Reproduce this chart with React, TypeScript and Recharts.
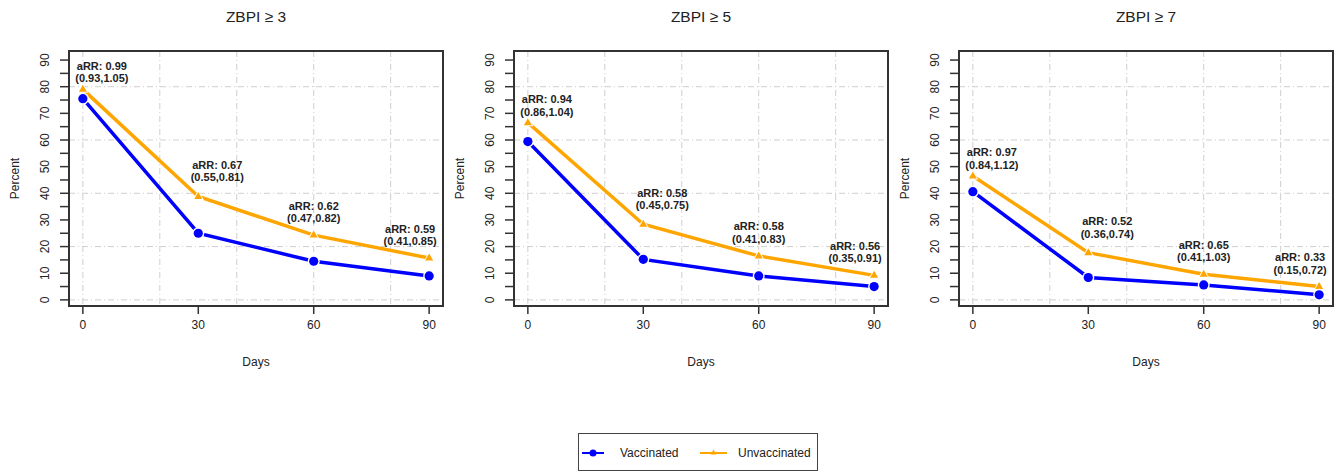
import React from "react";
import { LineChart, Line, XAxis, YAxis, CartesianGrid, ReferenceArea, LabelList } from "recharts";

// x values (days) and tick marks
const days = [0, 30, 60, 90];
const xTicks = [0, 30, 60, 90];
const yTicks = [0, 5, 10, 15, 20, 25, 30, 35, 40, 45, 50, 55, 60, 65, 70, 75, 80, 85, 90];
const gridX = [0, 20, 40, 60, 80];
const gridY = [0, 20, 40, 60, 80];

// ZBPI >= 3
const vacc3 = [75.5, 25, 14.5, 9];
const unvacc3 = [79, 38.8, 24.3, 15.7];
const arr3 = ["0.99", "0.67", "0.62", "0.59"];
const ci3 = ["(0.93,1.05)", "(0.55,0.81)", "(0.47,0.82)", "(0.41,0.85)"];

// ZBPI >= 5
const vacc5 = [59.4, 15.2, 9, 5];
const unvacc5 = [66.5, 28.4, 16.5, 9.2];
const arr5 = ["0.94", "0.58", "0.58", "0.56"];
const ci5 = ["(0.86,1.04)", "(0.45,0.75)", "(0.41,0.83)", "(0.35,0.91)"];

// ZBPI >= 7
const vacc7 = [40.6, 8.4, 5.6, 1.9];
const unvacc7 = [46.5, 17.7, 9.6, 5];
const arr7 = ["0.97", "0.52", "0.65", "0.33"];
const ci7 = ["(0.84,1.12)", "(0.36,0.74)", "(0.41,1.03)", "(0.15,0.72)"];

const BLUE = "#0000ff";
const ORANGE = "#ffa500";
const FONT = "'Liberation Sans', Arial, sans-serif";

// annotation placement relative to the triangle (px)
const ANN_DX = [19, 19, 0, -19];
const ANN_DY = [11, 19, 17, 17];

const panels = [
  { title: "ZBPI \u2265 3", vacc: vacc3, unvacc: unvacc3, arr: arr3, ci: ci3 },
  { title: "ZBPI \u2265 5", vacc: vacc5, unvacc: unvacc5, arr: arr5, ci: ci5 },
  { title: "ZBPI \u2265 7", vacc: vacc7, unvacc: unvacc7, arr: arr7, ci: ci7 },
];

const YTick = ({ x, y, payload }: any) => {
  if (payload.value % 10 !== 0) return null;
  return (
    <text x={x} y={y} transform={`rotate(-90 ${x} ${y})`} textAnchor="middle" dominantBaseline="central"
      fontFamily={FONT} fontSize={12} fill="#222">
      {payload.value}
    </text>
  );
};

const XTick = ({ x, y, payload }: any) => (
  <text x={x} y={y} textAnchor="middle" dominantBaseline="central" fontFamily={FONT} fontSize={12} fill="#222">
    {payload.value}
  </text>
);

const DaysLabel = ({ viewBox }: any) => (
  <text x={viewBox.x + viewBox.width / 2} y={viewBox.y + 56} textAnchor="middle" dominantBaseline="central"
    fontFamily={FONT} fontSize={12} fill="#222">Days</text>
);

const PercentLabel = ({ viewBox }: any) => {
  const x = viewBox.x + 15;
  const y = viewBox.y + viewBox.height / 2;
  return (
    <text x={x} y={y} transform={`rotate(-90 ${x} ${y})`} textAnchor="middle" dominantBaseline="central"
      fontFamily={FONT} fontSize={12} fill="#222">Percent</text>
  );
};

const CircleDot = ({ cx, cy }: any) => (
  <g>
    <circle cx={cx} cy={cy} r={6} fill="#fff" />
    <circle cx={cx} cy={cy} r={4.6} fill={BLUE} />
  </g>
);

const TriDot = ({ cx, cy }: any) => (
  <g>
    <polygon points={`${cx},${cy - 6.5} ${cx - 5.5},${cy + 3.5} ${cx + 5.5},${cy + 3.5}`} fill="#fff" />
    <polygon points={`${cx},${cy - 4.5} ${cx - 4},${cy + 2.5} ${cx + 4},${cy + 2.5}`} fill={ORANGE} />
  </g>
);

function Panel({ p, left }: { p: typeof panels[0]; left: number }) {
  const data = days.map((d, i) => ({
    day: d,
    vacc: p.vacc[i],
    unvacc: p.unvacc[i],
    ann: `${p.arr[i]}|${p.ci[i]}`,
  }));

  const AnnLabel = (props: any) => {
    const { x, y, index, value } = props;
    const [a, c] = String(value).split("|");
    const tx = x + ANN_DX[index];
    const ty = y - ANN_DY[index];
    return (
      <g fontFamily={FONT} fontSize={11} fontWeight="bold" fill="#222">
        <text x={tx} y={ty - 12.5} textAnchor="middle" dominantBaseline="central">aRR: {a}</text>
        <text x={tx} y={ty} textAnchor="middle" dominantBaseline="central">{c}</text>
      </g>
    );
  };

  return (
    <div style={{ position: "absolute", left, top: 0, width: 445, height: 400 }}>
      <div style={{ position: "absolute", left: 69, width: 374, top: 8, textAlign: "center",
        fontFamily: FONT, fontSize: 15.5, color: "#222" }}>{p.title}</div>
      <LineChart width={445} height={400} data={data} margin={{ top: 51, right: 2, left: 0, bottom: 0 }}>
        <CartesianGrid stroke="#cfcfcf" strokeDasharray="6 3 1 3" verticalValues={gridX} horizontalValues={gridY} />
        <XAxis dataKey="day" type="number" domain={[-3.6, 93.6]} ticks={xTicks} allowDataOverflow
          axisLine={false} tickSize={8} tickMargin={11} height={94} tick={<XTick />}
          tickLine={{ stroke: "#333", strokeWidth: 1.5 }} label={<DaysLabel />} />
        <YAxis type="number" domain={[-2.3, 93.4]} ticks={yTicks} allowDataOverflow interval={0}
          axisLine={false} tickSize={9} tickMargin={15} width={69} tick={<YTick />}
          tickLine={{ stroke: "#333", strokeWidth: 1.5 }} label={<PercentLabel />} />
        <ReferenceArea x1={-3.6} x2={93.6} y1={-2.3} y2={93.4} fill="none" stroke="#333" strokeWidth={2}
          ifOverflow="extendDomain" />
        <Line dataKey="unvacc" stroke={ORANGE} strokeWidth={3.5} dot={<TriDot />} isAnimationActive={false}>
          <LabelList dataKey="ann" content={<AnnLabel />} />
        </Line>
        <Line dataKey="vacc" stroke={BLUE} strokeWidth={3.5} dot={<CircleDot />} isAnimationActive={false} />
      </LineChart>
    </div>
  );
}

export default function App() {
  return (
    <div style={{ position: "absolute", left: 0, top: 0, width: 1342, height: 473, background: "#fff" }}>
      {panels.map((p, i) => (
        <Panel key={p.title} p={p} left={i * 445} />
      ))}
      <div style={{ position: "absolute", left: 578, top: 433, width: 240, height: 38,
        border: "1.5px solid #444", boxSizing: "border-box", background: "#fff" }}>
        <svg width={240} height={38} style={{ position: "absolute", left: 0, top: 0 }}>
          <line x1={3} x2={25} y1={19} y2={19} stroke={BLUE} strokeWidth={2} />
          <circle cx={14} cy={19} r={3.5} fill={BLUE} />
          <text x={41} y={19} dominantBaseline="central" fontFamily={FONT} fontSize={12} fill="#222">Vaccinated</text>
          <line x1={121} x2={148} y1={19} y2={19} stroke={ORANGE} strokeWidth={2} />
          <polygon points="134.5,15.5 131.5,20.5 137.5,20.5" fill={ORANGE} />
          <text x={159} y={19} dominantBaseline="central" fontFamily={FONT} fontSize={12} fill="#222">Unvaccinated</text>
        </svg>
      </div>
    </div>
  );
}
